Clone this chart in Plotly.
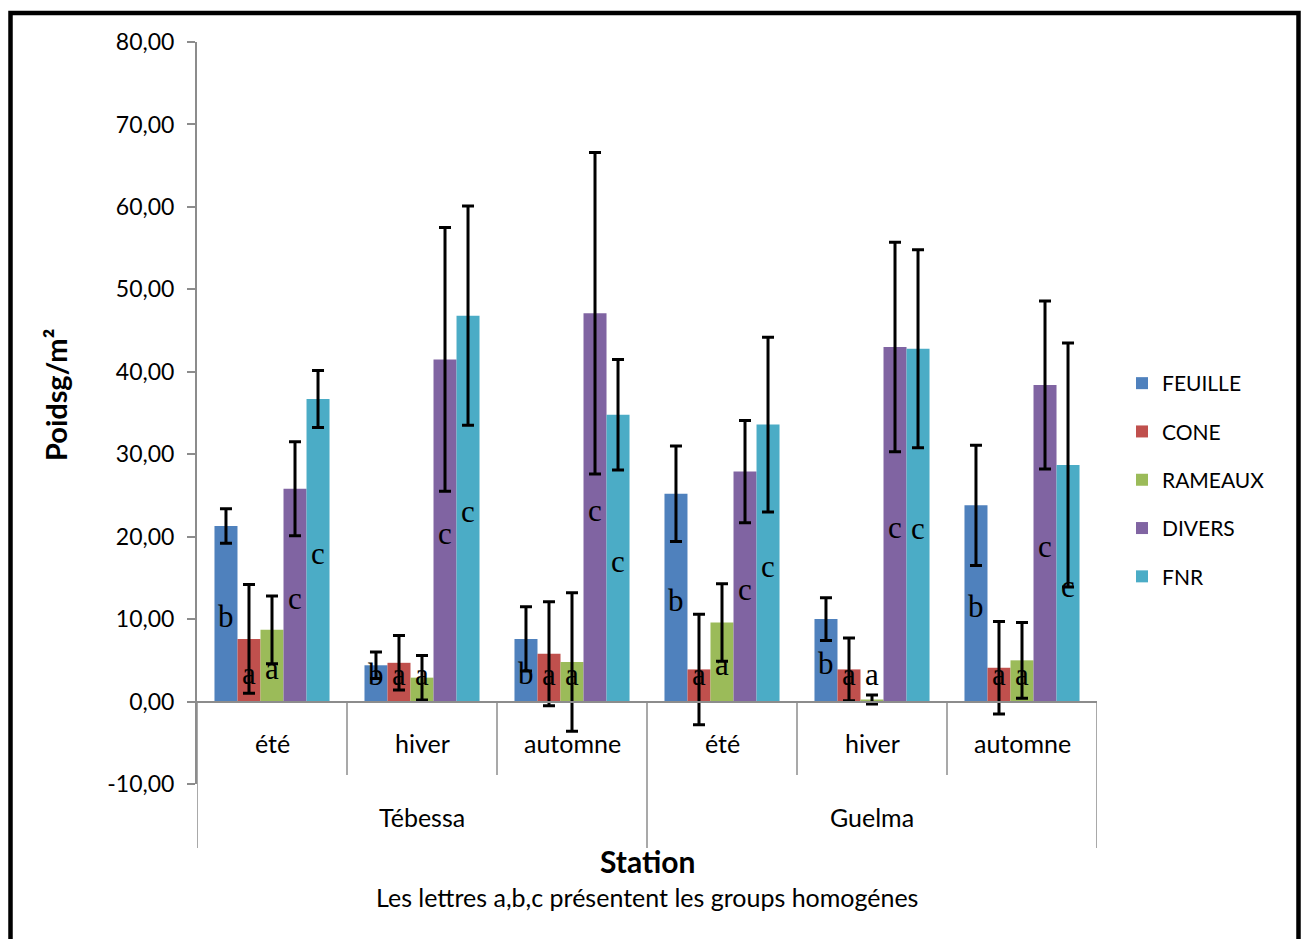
import plotly.graph_objects as go

# Categories: two stations, three seasons each
stations = ["Tébessa", "Tébessa", "Tébessa", "Guelma", "Guelma", "Guelma"]
seasons = ["été", "hiver", "automne", "été", "hiver", "automne"]

# Mean litter weight (g/m²) per fraction and its error
feuille = [21.3, 4.4, 7.6, 25.2, 10.0, 23.8]
feuille_err = [2.1, 1.6, 3.9, 5.8, 2.6, 7.3]
cone = [7.6, 4.7, 5.8, 3.9, 3.9, 4.1]
cone_err = [6.6, 3.3, 6.3, 6.7, 3.8, 5.6]
rameaux = [8.7, 2.9, 4.8, 9.6, 0.25, 5.0]
rameaux_err = [4.1, 2.7, 8.4, 4.7, 0.55, 4.6]
divers = [25.8, 41.5, 47.1, 27.9, 43.0, 38.4]
divers_err = [5.7, 16.0, 19.5, 6.2, 12.7, 10.2]
fnr = [36.7, 46.8, 34.8, 33.6, 42.8, 28.7]
fnr_err = [3.45, 13.3, 6.7, 10.6, 12.0, 14.8]

# Homogeneous-group letters
feuille_grp = ["b", "b", "b", "b", "b", "b"]
cone_grp = ["a", "a", "a", "a", "a", "a"]
rameaux_grp = ["a", "a", "a", "a", "a", "a"]
divers_grp = ["c", "c", "c", "c", "c", "c"]
fnr_grp = ["c", "c", "c", "c", "c", "c"]

series_names = ["FEUILLE", "CONE", "RAMEAUX", "DIVERS", "FNR"]
colors = ["#4F81BD", "#C0504D", "#9BBB59", "#8064A2", "#4BACC6"]
values = [feuille, cone, rameaux, divers, fnr]
errors = [feuille_err, cone_err, rameaux_err, divers_err, fnr_err]
groups = [feuille_grp, cone_grp, rameaux_grp, divers_grp, fnr_grp]

y_ticks = [-10, 0, 10, 20, 30, 40, 50, 60, 70, 80]
y_ticktext = [f"{v:.2f}".replace(".", ",") for v in y_ticks]

W, H = 1306, 939
L, R, T, B = 197, 209, 42, 155
PW, PH = W - L - R, H - T - B
Y0, Y1 = -10, 80
BARGAP = 0.233


def px_x(px):
    return (px - L) / PW


def px_y(py):
    return (H - B - py) / PH


fig = go.Figure()
for name, col, vals, err in zip(series_names, colors, values, errors):
    fig.add_trace(go.Bar(
        name=name,
        x=[stations, seasons],
        y=vals,
        marker=dict(color=col, line=dict(width=0)),
        error_y=dict(type="data", array=err, visible=True,
                     color="black", thickness=3, width=6),
        legendgroup=name,
    ))

# group letters, centred in each bar
n_series = len(series_names)
bw = (1 - BARGAP) / n_series
annotations = []
for i, (vals, letters) in enumerate(zip(values, groups)):
    for j, (v, letter) in enumerate(zip(vals, letters)):
        xpos = j - (1 - BARGAP) / 2 + (i + 0.5) * bw
        annotations.append(dict(
            x=xpos, y=max(v / 2, 3.6), xref="x", yref="y",
            xanchor="center", yanchor="middle",
            text=letter, showarrow=False, yshift=-3,
            font=dict(family="Liberation Serif", size=31, color="black"),
        ))

# category labels: seasons on the first row, stations below
label_font = dict(family="Lato", size=25, color="black")
for j, s in enumerate(seasons):
    annotations.append(dict(x=j, y=px_y(743), xref="x", yref="paper",
                            xanchor="center", yanchor="middle",
                            text=s, showarrow=False, font=label_font))
station_names = []
for st in stations:
    if st not in station_names:
        station_names.append(st)
for st in station_names:
    idx = [j for j, s in enumerate(stations) if s == st]
    annotations.append(dict(x=sum(idx) / len(idx), y=px_y(817), xref="x", yref="paper",
                            xanchor="center", yanchor="middle",
                            text=st, showarrow=False, font=label_font))

annotations += [
    dict(x=px_x(647), y=px_y(861), xref="paper", yref="paper",
         xanchor="center", yanchor="middle",
         text="<b>Station</b>", showarrow=False,
         font=dict(family="Lato", size=30, color="black")),
    dict(x=px_x(647), y=px_y(897), xref="paper", yref="paper",
         xanchor="center", yanchor="middle",
         text="Les lettres a,b,c présentent les groups homogénes",
         showarrow=False,
         font=dict(family="Lato", size=25, color="black")),
    dict(x=px_x(55), y=px_y(395), xref="paper", yref="paper",
         xanchor="center", yanchor="middle",
         text="<b>Poidsg/m²</b>", showarrow=False, textangle=-90,
         font=dict(family="Lato", size=29, color="black")),
]

axis_grey = "#8C8C8C"

# dividers below the category axis: short between seasons, long between stations
shapes = []
for j in range(len(seasons) + 1):
    edge = j == 0 or j == len(seasons) or stations[j] != stations[j - 1]
    shapes.append(dict(type="line", xref="x", yref="paper",
                       x0=j - 0.5, x1=j - 0.5,
                       y0=px_y(702), y1=px_y(848 if edge else 775),
                       line=dict(color=axis_grey, width=1.5)))

shapes.append(dict(type="rect", xref="paper", yref="paper",
                   x0=px_x(10.5), x1=px_x(1298.5), y0=px_y(960), y1=px_y(13),
                   line=dict(color="black", width=4.5), fillcolor="rgba(0,0,0,0)"))

fig.update_layout(
    width=W, height=H,
    margin=dict(l=L, r=R, t=T, b=B, pad=0),
    paper_bgcolor="white", plot_bgcolor="white",
    barmode="group", bargap=BARGAP, bargroupgap=0,
    font=dict(family="Lato", color="black"),
    showlegend=True,
    legend=dict(x=px_x(1122), y=px_y(363), xanchor="left", yanchor="top",
                font=dict(family="Lato", size=21, color="black"),
                tracegroupgap=18, bgcolor="rgba(0,0,0,0)"),
    xaxis=dict(type="multicategory", anchor="free",
               position=(0 - Y0) / (Y1 - Y0),
               range=[-0.5, len(seasons) - 0.5],
               showline=True, linecolor=axis_grey, linewidth=2,
               ticks="", showticklabels=False, showdividers=False,
               showgrid=False, zeroline=False),
    yaxis=dict(range=[Y0, Y1], tickvals=y_ticks, ticktext=y_ticktext,
               showline=True, linecolor=axis_grey, linewidth=2,
               ticks="outside", ticklen=8, tickcolor=axis_grey, tickwidth=1.5,
               ticklabelstandoff=8,
               tickfont=dict(family="Lato", size=23, color="black"),
               showgrid=False, zeroline=False),
    annotations=annotations,
    shapes=shapes,
)

fig.write_html("out.html")
